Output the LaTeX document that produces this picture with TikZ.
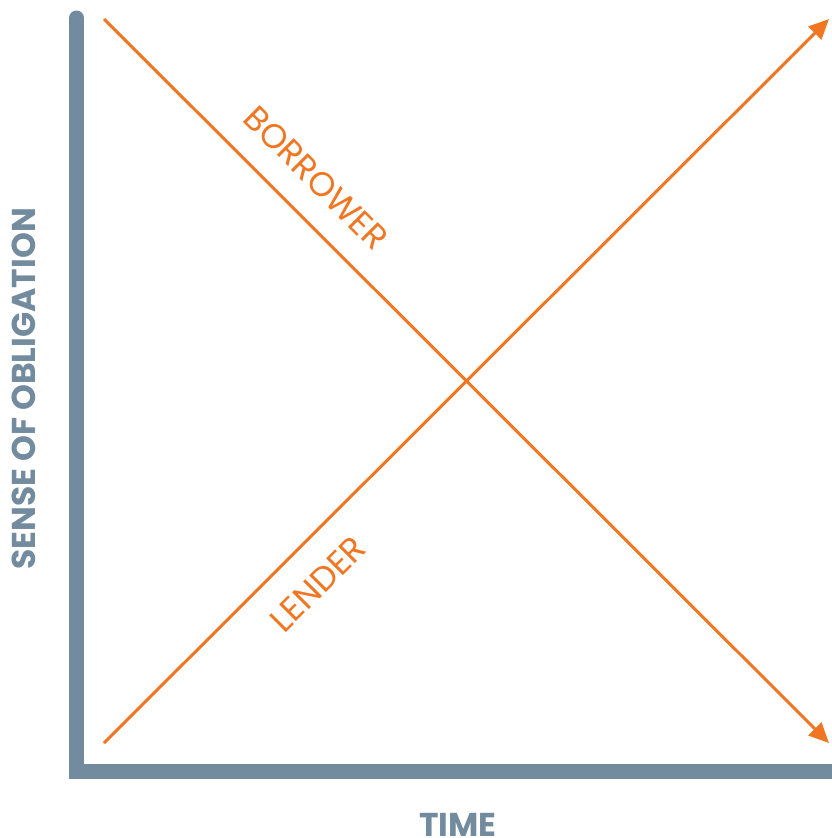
\documentclass[tikz,border=0pt]{standalone}
\usepackage{fontspec}
\setmainfont{Poppins}
\usetikzlibrary{arrows.meta}
\definecolor{axisc}{RGB}{114,139,158}
\definecolor{orangec}{RGB}{241,118,34}
\tikzset{
  axisline/.style={draw=axisc, line width=15pt, line cap=round, line join=miter},
  trendline/.style={draw=orangec, line width=3pt, -{Triangle[length=20pt,width=18pt]}},
  linelabel/.style={text=orangec, font=\fontsize{34}{34}\selectfont, inner sep=0pt},
  axislabel/.style={text=axisc, font=\fontsize{33}{33}\selectfont\bfseries, inner sep=0pt}
}
\begin{document}
\begin{tikzpicture}[x=1pt,y=-1pt]
\useasboundingbox (0,0) rectangle (831,838);
\coordinate (ytop) at (76.5,18);
\coordinate (corner) at (76.5,771);
\coordinate (xend) at (840,771);
\draw[axisline] (ytop) -- (corner) -- (xend);
\coordinate (bstart) at (104,19);
\coordinate (bend) at (829,743);
\coordinate (lstart) at (104,743);
\coordinate (lend) at (829,19);
\draw[trendline] (bstart) -- (bend);
\draw[trendline] (lstart) -- (lend);
\node[linelabel, rotate=-45] (borrower) at (316,178) {BORROWER};
\node[linelabel, rotate=45] (lender) at (318,584) {LENDER};
\node[axislabel] (time) at (458,825) {TIME};
\node[axislabel, rotate=90] (sense) at (24,389) {SENSE OF OBLIGATION};
\end{tikzpicture}
\end{document}
